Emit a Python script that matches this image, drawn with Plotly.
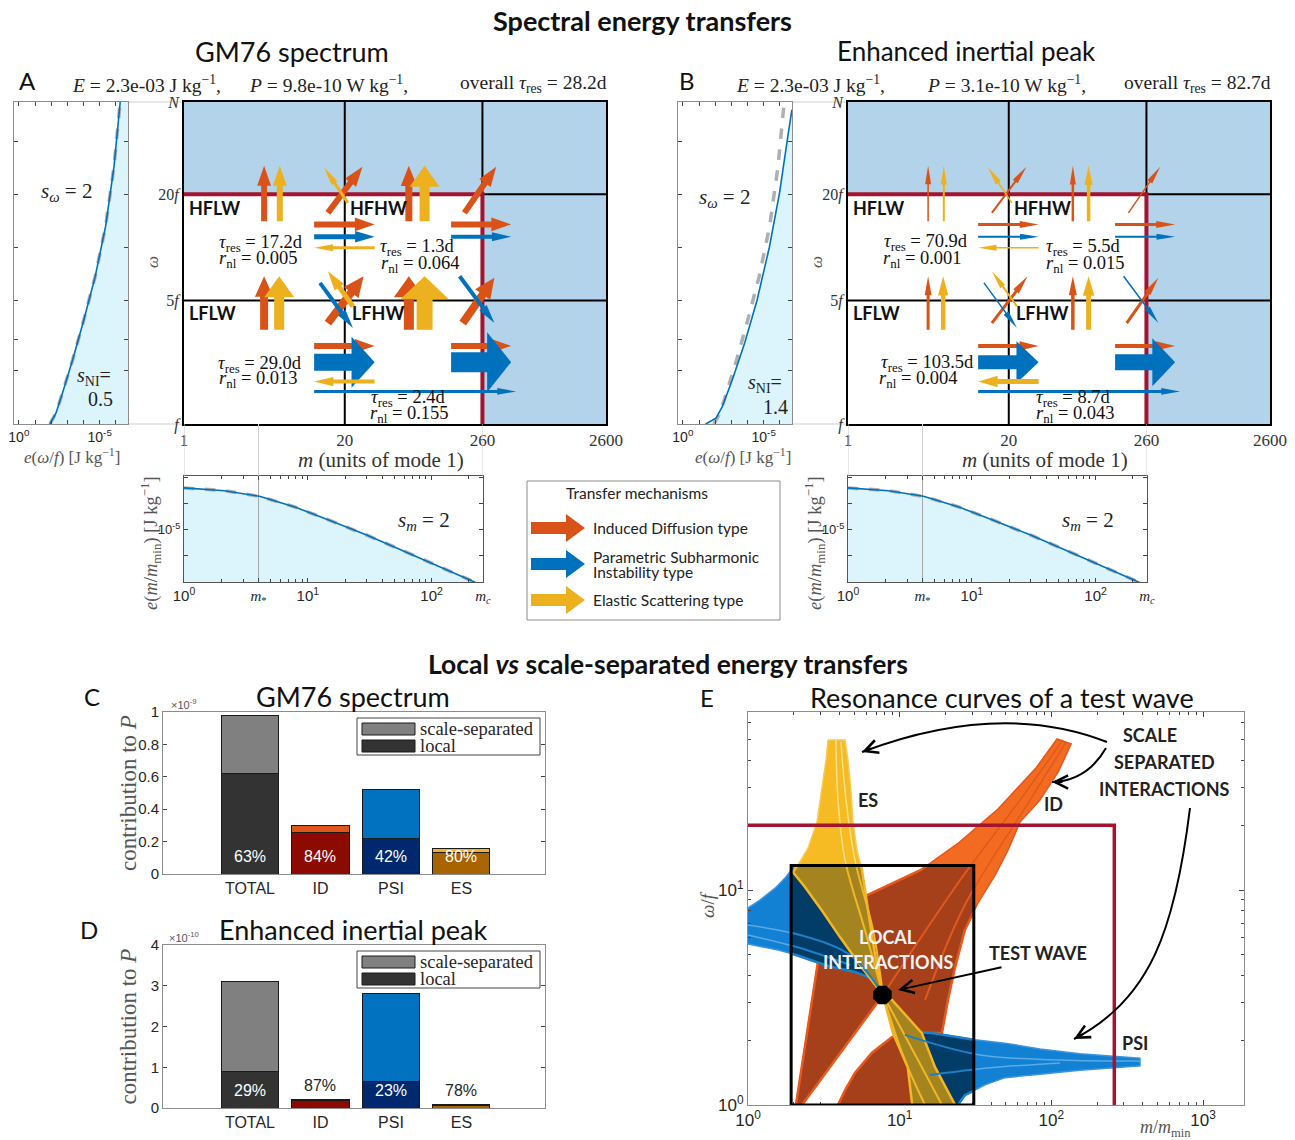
import math
import plotly.graph_objects as go

W, H = 1295, 1140
def px(x): return x / W
def py(y): return 1 - y / H
def dom_x(a, b): return [a / W, b / W]
def dom_y(top, bottom): return [1 - bottom / H, 1 - top / H]

SANS = "Lato, 'Open Sans', sans-serif"
HELV = "'Liberation Sans', Arial, sans-serif"
SERIF = "'Liberation Serif', 'DejaVu Serif', serif"

C_ID, C_PSI, C_ES = '#D95319', '#0072BD', '#EDB120'
CRIMSON = '#A2142F'
SKY = '#B2D3EA'
CYAN = '#DCF4FC'
KIND_COLOR = {'ID': C_ID, 'PSI': C_PSI, 'ES': C_ES}

# ======================= DATA =======================
# frequency spectra e(omega/f) [J kg^-1]
gm_omega = [1.0, 1.155, 1.5, 2.31, 3.75, 6.84, 13.2, 28.8, 66.7]
gm_e = [1.2e-2, 5.0e-3, 2.0e-3, 4.7e-4, 1.07e-4, 1.9e-5, 4.3e-6, 1.3e-6, 5.4e-7]
ip_omega = [1.0, 1.08, 1.25, 1.78, 2.88, 5.01, 10.0, 20.4, 42.7, 60.3]
ip_e = [3.9e-2, 8.9e-3, 3.7e-3, 8.7e-4, 1.5e-4, 2.6e-5, 4.5e-6, 1.05e-6, 3.2e-7, 1.8e-7]
# vertical-mode spectrum e(m/m_min)
spec_m = [1, 2.12, 4.07, 7.85, 15.1, 29.2, 56.2, 97.7, 174, 240]
spec_e = [4.1e-4, 3.2e-4, 1.95e-4, 7.6e-5, 2.3e-5, 6.6e-6, 1.74e-6, 5.4e-7, 1.7e-7, 8.5e-8]
m_star, m_c = 4, 260
# spectral-box boundaries
grid_m = [1, 20, 260, 2600]
grid_m_labels = ['1', '20', '260', '2600']
grid_omega = [1, 5, 20, 66.7]
grid_omega_labels = ['<i>f</i>', '5<i>f</i>', '20<i>f</i>', '<i>N</i>']

# panel headers and numbers
hdr_E = ['2.3e-03', '2.3e-03']
hdr_P = ['9.8e-10', '3.1e-10']
hdr_tau = ['28.2d', '82.7d']
s_NI = ['0.5', '1.4']
tau_res = [['17.2d', '1.3d', '29.0d', '2.4d'], ['70.9d', '5.5d', '103.5d', '8.7d']]
r_nl = [['0.005', '0.064', '0.013', '0.155'], ['0.001', '0.015', '0.004', '0.043']]

# transfer arrows: from (m0, w0) to (m1, w1), in m (mode units) and omega/f
arrow_kind = ['ID', 'ES', 'ID', 'ES', 'ID', 'ES', 'ID', 'ID', 'PSI', 'ES', 'ID', 'PSI',
              'ID', 'ES', 'ID', 'ES', 'ID', 'ES', 'PSI', 'ID', 'PSI',
              'ID', 'PSI', 'ES', 'PSI', 'ID', 'PSI']
arrow_m0 = [4.45, 5.96, 66, 88.5, 14.6, 21.2, 186, 11.3, 11.3, 34.9, 145, 145,
            4.45, 5.89, 66, 88.5, 14.6, 23.3, 12.6, 180, 170,
            11.3, 11.3, 34.9, 11.3, 145, 145]
arrow_w0 = [14.1, 14.1, 14.1, 14.1, 15.7, 17.9, 15.7, 13.5, 11.5, 9.96, 13.5, 11.5,
            3.42, 3.42, 3.42, 3.42, 3.73, 4.64, 6.3, 3.73, 6.87,
            2.77, 2.24, 1.74, 1.53, 2.77, 2.24]
arrow_m1 = [4.45, 5.96, 66, 88.5, 27.8, 13.6, 336, 34.9, 34.9, 11.3, 444, 444,
            4.45, 5.89, 66, 88.5, 28.4, 14.6, 23.3, 325, 325,
            34.9, 34.9, 11.3, 487, 444, 444]
arrow_w1 = [29.0, 29.0, 29.0, 29.0, 28.7, 28.4, 28.7, 13.5, 11.5, 9.96, 13.5, 11.5,
            6.87, 6.87, 6.87, 6.87, 6.87, 7.33, 3.5, 6.73, 3.73,
            2.77, 2.24, 1.74, 1.53, 2.77, 2.24]
# arrow thickness (proportional to transfer), panels A and B
arrow_width = [
    [6, 6, 7, 10, 6, 3, 6, 6, 5, 3, 6, 4, 8, 10, 10, 16, 8, 5, 4, 8, 4, 6, 17, 4, 3, 6, 20],
    [1.5, 2, 2.5, 3.5, 2, 1.5, 1.5, 3, 2, 1.5, 3, 2, 3, 4.5, 3.5, 5, 3, 2, 1.5, 3, 1.5, 4, 14, 5, 3, 4, 16],
]

# bar charts (C: x1e-9, D: x1e-10)
cats = ['TOTAL', 'ID', 'PSI', 'ES']
C_total = [0.98, 0.30, 0.52, 0.16]
C_local = [0.62, 0.255, 0.22, 0.13]
C_pct = ['63%', '84%', '42%', '80%']
D_total = [3.1, 0.22, 2.8, 0.08]
D_local = [0.9, 0.19, 0.64, 0.062]
D_pct = ['29%', '87%', '23%', '78%']
local_colors = ['#333333', '#8C0A00', '#00286E', '#A86400']
ss_colors = ['#808080', '#E0561A', '#0072C0', '#F0B428']

# resonance curves (panel E), m/m_min and omega/f
test_m, test_omega, local_factor = 7.7, 3.25, 4
id_main_m = [2.07, 2.49, 2.89, 3.22, 5.73, 13.8, 24.6, 44.5, 79.1, 109, 135, 111, 84.1, 62.1,
             51.8, 42.5, 32.8, 26.9, 23.2, 20.8, 19.0, 13.2, 10.0, 7.76, 2.27]
id_main_w = [1.0, 2.28, 4.62, 7.9, 9.27, 12.4, 16.6, 23.8, 36.9, 50.4, 47.8, 35.4, 26.2, 20.7,
             15.3, 11.7, 8.7, 6.52, 4.38, 3.08, 2.16, 2.16, 2.62, 3.25, 1.0]
id_blob_m = [3.92, 4.36, 5.07, 6.57, 8.9, 11.3, 12.6, 13.2]
id_blob_w = [1.0, 1.17, 1.41, 1.75, 2.07, 2.19, 1.62, 1.0]
psi_left_m = [0.95, 1.0, 1.2, 1.51, 1.78, 1.98, 4.04, 5.9, 7.19, 6.37, 5.07, 3.37, 1.98, 1.58, 1.0, 0.95]
psi_left_w = [8.25, 8.25, 8.98, 10.2, 11.5, 12.7, 6.24, 4.34, 3.65, 3.9, 4.16, 4.43, 5.04, 5.26, 5.61, 5.61]
psi_low_m = [10.8, 16.3, 31.3, 49.4, 84.1, 154, 243, 384, 384, 243, 154, 84.1, 49.4, 36.5, 26.9,
             24.2, 21.5, 15.8, 12.1]
psi_low_w = [2.19, 2.16, 2.01, 1.94, 1.82, 1.73, 1.69, 1.65, 1.52, 1.49, 1.45, 1.39, 1.34, 1.24,
             1.11, 1.0, 1.0, 1.45, 1.9]
es_up_m = [3.37, 4.36, 4.56, 4.77, 4.92, 5.23, 5.64, 6.18, 6.88, 7.76, 5.47, 4.04, 3.12, 2.38,
           1.98, 2.2, 2.49, 2.85, 3.07, 3.27]
es_up_w = [49.9, 49.9, 40.3, 29.2, 20.7, 15.3, 12.4, 8.07, 4.99, 3.25, 4.48, 6.04, 7.9, 10.3,
           12.1, 13.5, 15.7, 20.7, 29.2, 40.3]
es_low_m = [7.76, 9.03, 11.3, 12.1, 23.2, 17.1, 14.0, 8.9]
es_low_w = [3.25, 2.16, 1.5, 1.0, 1.0, 1.5, 2.16, 3.08]
# individual resonance strands inside the bands
strands = [
    ('ID', [7.76, 25.0, 62.1, 119], [3.25, 11.1, 26.2, 49.9]),
    ('ID', [14.7, 26.9, 72.3, 125], [3.08, 8.51, 26.2, 48.8]),
    ('ES', [3.80, 3.92, 4.36, 5.9, 7.76], [49.9, 26.2, 13.8, 6.52, 3.25]),
    ('ES', [4.10, 4.43, 5.07, 6.67, 7.76], [48.8, 26.2, 13.8, 6.52, 3.25]),
    ('ES', [7.76, 10.8, 14.7], [3.25, 1.62, 1.0]),
    ('ES', [7.76, 13.2, 19.0], [3.25, 1.62, 1.0]),
    ('PSI', [1.0, 2.2, 4.7, 7.42], [6.87, 6.18, 4.99, 3.43]),
    ('PSI', [1.0, 2.2, 4.7], [6.18, 5.37, 4.48]),
    ('PSI', [10.8, 33.8, 114, 384], [2.12, 1.71, 1.62, 1.6]),
    ('PSI', [15.8, 39.4, 114], [1.38, 1.49, 1.57]),
]

# ======================= LAYOUT GEOMETRY =======================
SPEC_XR = [0.3, -6.75]
OM_R = [0, math.log10(grid_omega[-1])]
GRID_XR = [0, math.log10(grid_m[-1])]
MS_XR = [0, math.log10(m_c)]
MS_YR = [-7.0, -2.93]
E_XPX, E_YPX = (748, 1244), (712, 1105)
E_XR, E_YR = [0, 3.27], [0, 1.828]

panels = [
    dict(spec=('x', 'y'), grid=('x2', 'y2'), ms=('x3', 'y3'), conn=('x11', 'y11'),
         sx=(14, 128), gx=(184, 606), msx=(184, 483), dx=0),
    dict(spec=('x4', 'y4'), grid=('x5', 'y5'), ms=('x6', 'y6'), conn=('x12', 'y12'),
         sx=(678, 792), gx=(848, 1270), msx=(848, 1147), dx=664),
]

fig = go.Figure()
layout_axes = {}
annotations = []
shapes = []

def ax_name(a, kind):
    return ('xaxis' if kind == 'x' else 'yaxis') + a[1:]

def ann(x, y, text, size=14, family=SANS, color='#222222', xanchor='center', yanchor='middle', angle=0):
    annotations.append(dict(x=px(x), y=py(y), xref='paper', yref='paper', text=text, showarrow=False,
                            font=dict(size=size, family=family, color=color), xanchor=xanchor,
                            yanchor=yanchor, textangle=angle))

def hline(x0, x1, y, color='#D0D0D0', width=1):
    shapes.append(dict(type='line', xref='paper', yref='paper', x0=px(x0), x1=px(x1), y0=py(y), y1=py(y),
                       line=dict(color=color, width=width), layer='below'))

def arrow_poly(m0, w0, m1, w1, wpx, sx, sy):
    x0, y0 = math.log10(m0) * sx, math.log10(w0) * sy
    x1, y1 = math.log10(m1) * sx, math.log10(w1) * sy
    L = math.hypot(x1 - x0, y1 - y0)
    ux, uy = (x1 - x0) / L, (y1 - y0) / L
    nx, ny = -uy, ux
    hw = max(6.0, 2.3 * wpx if wpx < 10 else 3.0 * wpx) / 2
    hl = min(18 + 0.3 * wpx, 0.6 * L)
    bx, by = x1 - ux * hl, y1 - uy * hl
    s = wpx / 2
    pts = [(x0 + nx * s, y0 + ny * s), (bx + nx * s, by + ny * s), (bx + nx * hw, by + ny * hw), (x1, y1),
           (bx - nx * hw, by - ny * hw), (bx - nx * s, by - ny * s), (x0 - nx * s, y0 - ny * s)]
    pts.append(pts[0])
    return [10 ** (p[0] / sx) for p in pts], [10 ** (p[1] / sy) for p in pts]

tick_font = dict(family=HELV, size=14, color='#262626')
def minor(vals, ln=3, col='#444444'):
    return dict(tickmode='array', tickvals=vals, ticks='inside', ticklen=ln, tickcolor=col, showgrid=False)

for ip, P in enumerate(panels):
    xs_, ys_ = P['spec']
    xg, yg = P['grid']
    xm, ym = P['ms']
    xc, yc = P['conn']
    d = P['dx']
    # ---- axes
    layout_axes[ax_name(xs_, 'x')] = dict(type='log', domain=dom_x(*P['sx']), range=SPEC_XR, anchor=ys_,
        tickvals=[1, 1e-5], ticktext=['10<sup>0</sup>', '10<sup>-5</sup>'], tickangle=0,
        minor=minor([1e-1, 1e-2, 1e-3, 1e-4, 1e-6], 4),
        ticks='inside', ticklen=4, mirror='ticks', showline=True, linecolor='#8c8c8c', linewidth=1,
        showgrid=False, zeroline=False, tickfont=tick_font)
    layout_axes[ax_name(ys_, 'y')] = dict(type='log', domain=dom_y(102, 424), range=OM_R, anchor=xs_,
        tickvals=[2, 3, 5, 10, 20, 40], showticklabels=False, ticks='inside', ticklen=4,
        mirror='ticks', showline=True, linecolor='#8c8c8c', linewidth=1, showgrid=False)
    layout_axes[ax_name(xg, 'x')] = dict(type='log', domain=dom_x(*P['gx']), range=GRID_XR, anchor=yg,
        tickvals=grid_m, ticktext=grid_m_labels, ticks='', showline=True, linecolor='black', linewidth=2,
        mirror=True, showgrid=False, zeroline=False, tickangle=0,
        tickfont=dict(family=SERIF, size=17, color='#333333'))
    layout_axes[ax_name(yg, 'y')] = dict(type='log', domain=dom_y(102, 424), range=OM_R, anchor=xg,
        tickvals=grid_omega, ticktext=grid_omega_labels, ticks='', showline=True, linecolor='black',
        linewidth=2, mirror=True, showgrid=False, zeroline=False,
        tickfont=dict(family=SERIF, size=16, color='#333333'))
    layout_axes[ax_name(xm, 'x')] = dict(type='log', domain=dom_x(*P['msx']), range=MS_XR, anchor=ym,
        tickvals=[1, m_star, 10, 100, m_c],
        ticktext=['10<sup>0</sup>', '<span style="font-family:Liberation Serif"><i>m</i><sub>*</sub></span>',
                  '10<sup>1</sup>', '10<sup>2</sup>',
                  '<span style="font-family:Liberation Serif"><i>m<sub>c</sub></i></span>'],
        tickangle=0, minor=minor([2, 3, 5, 6, 7, 8, 9, 20, 30, 40, 50, 60, 70, 80, 90, 200]),
        ticks='inside', ticklen=4, mirror='ticks', showline=True, linecolor='#555555', linewidth=1,
        showgrid=False, zeroline=False, tickfont=dict(family=HELV, size=15, color='#262626'))
    layout_axes[ax_name(ym, 'y')] = dict(type='log', domain=dom_y(476, 582), range=MS_YR, anchor=xm,
        tickvals=[1e-5], ticktext=['10<sup>-5</sup>'], minor=minor([1e-6, 1e-4, 1e-3], 4),
        ticks='inside', ticklen=4, mirror='ticks', showline=True, linecolor='#555555', linewidth=1,
        showgrid=False, zeroline=False, tickfont=dict(family=HELV, size=13, color='#262626'))
    layout_axes[ax_name(xc, 'x')] = dict(type='log', domain=dom_x(*P['msx']), range=MS_XR, anchor=yc,
                                         visible=False)
    layout_axes[ax_name(yc, 'y')] = dict(domain=dom_y(424, 476), range=[0, 1], anchor=xc, visible=False)

    # ---- frequency spectrum
    e_list, w_list = (gm_e, gm_omega) if ip == 0 else (ip_e, ip_omega)
    e_edge = 10 ** SPEC_XR[1]
    fig.add_trace(go.Scatter(x=e_list + [e_edge, e_edge, e_list[0]], y=w_list + [w_list[-1], w_list[0], w_list[0]],
                             mode='lines', fill='toself', fillcolor=CYAN, line=dict(width=0),
                             xaxis=xs_, yaxis=ys_, hoverinfo='skip'))
    fig.add_trace(go.Scatter(x=gm_e, y=gm_omega, mode='lines', line=dict(color='#AFAFAF', width=3.5, dash='dash'),
                             xaxis=xs_, yaxis=ys_, hoverinfo='skip'))
    fig.add_trace(go.Scatter(x=e_list, y=w_list, mode='lines', line=dict(color=C_PSI, width=1.6),
                             xaxis=xs_, yaxis=ys_, hoverinfo='skip'))
    hline(P['sx'][1], P['gx'][0], 102)
    hline(P['sx'][1], P['gx'][0], 424)

    # ---- spectral grid
    mN, wN = grid_m[-1], grid_omega[-1]
    fig.add_trace(go.Scatter(x=[grid_m[0], grid_m[2], grid_m[2], mN, mN, grid_m[0], grid_m[0]],
                             y=[grid_omega[2], grid_omega[2], grid_omega[0], grid_omega[0], wN, wN, grid_omega[2]],
                             mode='lines', fill='toself', fillcolor=SKY, line=dict(width=0),
                             xaxis=xg, yaxis=yg, hoverinfo='skip'))
    for xx, yy in [([grid_m[1], grid_m[1]], [grid_omega[0], wN]),
                   ([grid_m[2], grid_m[2]], [grid_omega[2], wN]),
                   ([grid_m[0], mN], [grid_omega[1], grid_omega[1]]),
                   ([grid_m[2], mN], [grid_omega[2], grid_omega[2]])]:
        fig.add_trace(go.Scatter(x=xx, y=yy, mode='lines', line=dict(color='black', width=2),
                                 xaxis=xg, yaxis=yg, hoverinfo='skip'))
    fig.add_trace(go.Scatter(x=[grid_m[0], grid_m[2], grid_m[2]], y=[grid_omega[2], grid_omega[2], grid_omega[0]],
                             mode='lines', line=dict(color=CRIMSON, width=4), xaxis=xg, yaxis=yg, hoverinfo='skip'))
    gx0, gx1 = P['gx']
    sxg = (gx1 - gx0) / (GRID_XR[1] - GRID_XR[0])
    syg = (424 - 102) / (OM_R[1] - OM_R[0])
    for k in range(len(arrow_kind)):
        ax_, ay_ = arrow_poly(arrow_m0[k], arrow_w0[k], arrow_m1[k], arrow_w1[k], arrow_width[ip][k], sxg, syg)
        fig.add_trace(go.Scatter(x=ax_, y=ay_, mode='lines', fill='toself', fillcolor=KIND_COLOR[arrow_kind[k]],
                                 line=dict(width=0), xaxis=xg, yaxis=yg, hoverinfo='skip'))

    # ---- m spectrum
    fig.add_trace(go.Scatter(x=spec_m + [spec_m[-1], spec_m[0]], y=spec_e + [10 ** MS_YR[0]] * 2,
                             mode='lines', fill='toself', fillcolor=CYAN, line=dict(width=0),
                             xaxis=xm, yaxis=ym, hoverinfo='skip'))
    fig.add_trace(go.Scatter(x=[m_star, m_star], y=[10 ** MS_YR[0], 10 ** MS_YR[1]], mode='lines',
                             line=dict(color='#A8A8A8', width=1), xaxis=xm, yaxis=ym, hoverinfo='skip'))
    fig.add_trace(go.Scatter(x=spec_m, y=spec_e, mode='lines', line=dict(color='#AFAFAF', width=3.5, dash='dash'),
                             xaxis=xm, yaxis=ym, hoverinfo='skip'))
    fig.add_trace(go.Scatter(x=spec_m, y=spec_e, mode='lines', line=dict(color=C_PSI, width=1.6),
                             xaxis=xm, yaxis=ym, hoverinfo='skip'))
    for mv in [1, m_star, m_c]:
        fig.add_trace(go.Scatter(x=[mv, mv], y=[0, 1], mode='lines', line=dict(color='#CFCFCF', width=1),
                                 xaxis=xc, yaxis=yc, hoverinfo='skip'))

    # ---- texts
    ann(146 + d, 84, '<i>E</i> = %s J kg<sup>−1</sup>,' % hdr_E[ip], 19.5, SERIF)
    ann(328 + d + (0 if ip == 0 else 15), 84, '<i>P</i> = %s W kg<sup>−1</sup>,' % hdr_P[ip], 19.5, SERIF)
    ann(533 + d, 84, 'overall <i>τ</i><sub>res</sub> = %s' % hdr_tau[ip], 19.5, SERIF)
    ann(27 + 660 * ip, 80, 'A' if ip == 0 else 'B', 24, SANS, '#111111')
    if ip == 0:
        ann(66, 192, '<i>s</i><sub><i>ω</i></sub> = 2', 21, SERIF)
        ann(94, 376, '<i>s</i><sub>NI</sub>=', 20, SERIF)
        ann(100, 399, s_NI[0], 20, SERIF)
    else:
        ann(724, 198, '<i>s</i><sub><i>ω</i></sub> = 2', 21, SERIF)
        ann(765, 384, '<i>s</i><sub>NI</sub>=', 20, SERIF)
        ann(775, 407, s_NI[1], 20, SERIF)
    ann(72 + (ip * 671), 456, '<i>e</i>(<i>ω</i>/<i>f</i>) [J kg<sup>−1</sup>]', 17, SERIF, '#555555')
    ann(152 + d, 262, '<i>ω</i>', 17, SERIF, '#555555', angle=-90)
    ann(381 + d, 460, '<i>m</i> (units of mode 1)', 21, SERIF, '#333333')
    for lab, (lx, ly) in zip(['HFLW', 'HFHW', 'LFLW', 'LFHW'], [(187, 208), (348, 208), (187, 313), (350, 313)]):
        ann(lx + d, ly, '<b>%s</b>' % lab, 18, SANS, '#111111', xanchor='left')
    tpos = [[(261, 243), (258, 259), (417, 247), (420, 264), (260, 364), (258, 380), (408, 398), (410, 414)],
            [(926, 242), (922, 259), (1083, 247), (1085, 264), (928, 363), (918, 380), (1073, 398), (1075, 414)]][ip]
    for j in range(4):
        (tx, ty), (rx, ry) = tpos[2 * j], tpos[2 * j + 1]
        ann(tx, ty, '<i>τ</i><sub>res</sub> = %s' % tau_res[ip][j], 18.5, SERIF, '#111111')
        ann(rx, ry, '<i>r</i><sub>nl</sub> = %s' % r_nl[ip][j], 18.5, SERIF, '#111111')
    ann(424 + d, 521, '<i>s</i><sub><i>m</i></sub> = 2', 21, SERIF)
    ann(150 + d, 543, '<i>e</i>(<i>m</i>/<i>m</i><sub>min</sub>) [J kg<sup>−1</sup>]', 18.5, SERIF, '#555555', angle=-90)

# ======================= TITLES =======================
ann(642, 20, '<b>Spectral energy transfers</b>', 27, SANS, '#111111')
ann(292, 51, 'GM76 spectrum', 27, SANS, '#111111')
ann(966, 51, 'Enhanced inertial peak', 26, SANS, '#111111')
ann(668, 664, '<b>Local <i>vs</i> scale-separated energy transfers</b>', 26.5, SANS, '#111111')

# ======================= LEGEND BOX (transfer mechanisms) =======================
shapes.append(dict(type='rect', xref='paper', yref='paper', x0=px(527), x1=px(780), y0=py(620), y1=py(481),
                   line=dict(color='#8c8c8c', width=1), fillcolor='white', layer='below'))
ann(637, 493, 'Transfer mechanisms', 15.5, SANS, '#222222')
leg_items = [(528, ['Induced Diffusion type'], C_ID), (564, ['Parametric Subharmonic', 'Instability type'], C_PSI),
             (600, ['Elastic Scattering type'], C_ES)]
for cy, lines, col in leg_items:
    pts = [(531, cy - 6), (566, cy - 6), (566, cy - 14), (585, cy), (566, cy + 14), (566, cy + 6), (531, cy + 6)]
    path = 'M ' + ' L '.join('%f,%f' % (px(a), py(b)) for a, b in pts) + ' Z'
    shapes.append(dict(type='path', xref='paper', yref='paper', path=path, fillcolor=col, line=dict(width=0)))
    if len(lines) == 1:
        ann(591, cy, lines[0], 15.5, SANS, '#222222', xanchor='left')
    else:
        ann(591, cy - 7, lines[0], 15.5, SANS, '#222222', xanchor='left')
        ann(591, cy + 8, lines[1], 15.5, SANS, '#222222', xanchor='left')

# ======================= BAR CHARTS C, D =======================
bar_panels = [('x7', 'y7', (712, 874), C_total, C_local, C_pct, [0, 1], [0, 0.2, 0.4, 0.6, 0.8, 1],
               ['0', '0.2', '0.4', '0.6', '0.8', '1'], '×10<sup>-9</sup>', 'C', 'GM76 spectrum'),
              ('x8', 'y8', (945, 1108), D_total, D_local, D_pct, [0, 4], [0, 1, 2, 3, 4],
               ['0', '1', '2', '3', '4'], '×10<sup>-10</sup>', 'D', 'Enhanced inertial peak')]
for xa, ya, (t, b), tot, loc, pct, yr, tv, tt, expo, letter, title in bar_panels:
    layout_axes[ax_name(xa, 'x')] = dict(type='category', domain=dom_x(163, 545), range=[-1.234, 4.186],
        anchor=ya, categoryorder='array', categoryarray=cats, ticks='', showline=True, mirror=True, tickangle=0,
        linecolor='#8c8c8c', linewidth=1, showgrid=False, tickfont=dict(family=HELV, size=16, color='#262626'))
    layout_axes[ax_name(ya, 'y')] = dict(domain=dom_y(t, b), range=yr, anchor=xa, tickvals=tv, ticktext=tt,
        ticks='inside', ticklen=4, mirror='ticks', showline=True, linecolor='#8c8c8c', linewidth=1,
        showgrid=False, zeroline=False, tickfont=dict(family=HELV, size=15, color='#262626'))
    ss = [a - c for a, c in zip(tot, loc)]
    fig.add_trace(go.Bar(x=cats, y=loc, width=0.81, marker=dict(color=local_colors, line=dict(color='#1a1a1a', width=1)),
                         xaxis=xa, yaxis=ya, hoverinfo='skip'))
    fig.add_trace(go.Bar(x=cats, y=ss, width=0.81, marker=dict(color=ss_colors, line=dict(color='#1a1a1a', width=1)),
                         xaxis=xa, yaxis=ya, hoverinfo='skip'))
    span = yr[1] - yr[0]
    for c, lv, tv_, p in zip(cats, loc, tot, pct):
        inside = lv > 0.1 * span
        annotations.append(dict(x=c, y=(0.11 * span if inside else tv_ + 0.085 * span), xref=xa, yref=ya, text=p,
                                showarrow=False, font=dict(family=HELV, size=16, color='white' if inside else '#262626')))
    ann(184, t - 8, expo, 11, HELV, '#555555')
    ann(128, (t + b) / 2, 'contribution to <i>P</i>', 23, SERIF, '#555555', angle=-90)
    ann(92 if letter == 'C' else 89, t - 16, letter, 24, SANS, '#111111')
    ann(353, t - 16, title, 27, SANS, '#111111')
    # legend
    shapes.append(dict(type='rect', xref='paper', yref='paper', x0=px(357), x1=px(540), y0=py(t + 43),
                       y1=py(t + 6), line=dict(color='#444444', width=1), fillcolor='white'))
    for k, (lab, col) in enumerate([('scale-separated', '#808080'), ('local', '#333333')]):
        yy = t + 17 + 17 * k
        shapes.append(dict(type='rect', xref='paper', yref='paper', x0=px(362), x1=px(415), y0=py(yy + 6),
                           y1=py(yy - 6), line=dict(color='#1a1a1a', width=1), fillcolor=col))
        ann(418, yy, lab, 18.5, SERIF, '#262626', xanchor='left')

# ======================= PANEL E =======================
mdec = [v * 10 ** k for k in range(3) for v in range(2, 10)] + [2000]
layout_axes['xaxis9'] = dict(type='log', domain=dom_x(*E_XPX), range=E_XR, anchor='y9',
    tickvals=[1, 10, 100, 1000], ticktext=['10<sup>0</sup>', '10<sup>1</sup>', '10<sup>2</sup>', '10<sup>3</sup>'],
    minor=minor(mdec, 3), tickangle=0,
    ticks='inside', ticklen=5, mirror='ticks', showline=True, linecolor='#8c8c8c', linewidth=1,
    showgrid=False, zeroline=False, tickfont=dict(family=HELV, size=17, color='#262626'))
wdec = [2, 3, 4, 5, 6, 7, 8, 9, 20, 30, 40, 50, 60]
layout_axes['yaxis9'] = dict(type='log', domain=dom_y(E_YPX[0], E_YPX[1]), range=E_YR, anchor='x9',
    tickvals=[1, 10], ticktext=['10<sup>0</sup>', '10<sup>1</sup>'], minor=minor(wdec, 3),
    ticks='inside', ticklen=5, mirror='ticks', showline=True, linecolor='#8c8c8c', linewidth=1,
    showgrid=False, zeroline=False, tickfont=dict(family=HELV, size=17, color='#262626'))

box_m0, box_m1 = test_m / local_factor, test_m * local_factor
box_w0, box_w1 = max(1.0, test_omega / local_factor), test_omega * local_factor
sxE = (E_XPX[1] - E_XPX[0]) / (E_XR[1] - E_XR[0])
syE = (E_YPX[1] - E_YPX[0]) / (E_YR[1] - E_YR[0])
bx0 = E_XPX[0] + sxE * (math.log10(box_m0) - E_XR[0])
bx1 = E_XPX[0] + sxE * (math.log10(box_m1) - E_XR[0])
by_bot = E_YPX[1] - syE * (math.log10(box_w0) - E_YR[0])
by_top = E_YPX[1] - syE * (math.log10(box_w1) - E_YR[0])
layout_axes['xaxis10'] = dict(type='log', domain=dom_x(bx0, bx1), range=[math.log10(box_m0), math.log10(box_m1)],
                              anchor='y10', visible=False)
layout_axes['yaxis10'] = dict(type='log', domain=dom_y(by_top, by_bot), range=[math.log10(box_w0), math.log10(box_w1)],
                              anchor='x10', visible=False)

E_polys = [(id_main_m, id_main_w, 'ID'), (id_blob_m, id_blob_w, 'ID'), (psi_left_m, psi_left_w, 'PSI'),
           (psi_low_m, psi_low_w, 'PSI'), (es_up_m, es_up_w, 'ES'), (es_low_m, es_low_w, 'ES')]
bright = {'ID': ('#F36A21', '#E4581C'), 'PSI': ('#1381D3', '#3A95DD'), 'ES': ('#F6BA23', '#F7CB55')}
dark = {'ID': ('#A5401A', '#E8591E'), 'PSI': ('#023D68', '#1E80C8'), 'ES': ('#A3841F', '#F2B626')}
strand_col = {'ID': '#E05A1E', 'PSI': '#5AAAE6', 'ES': '#FADF8A'}
strand_col_dark = {'ID': '#E05A1E', 'PSI': '#1C7FC8', 'ES': '#F2B626'}
for mm, ww, kind in E_polys:
    fc, lc = bright[kind]
    fig.add_trace(go.Scatter(x=mm + [mm[0]], y=ww + [ww[0]], mode='lines', fill='toself', fillcolor=fc,
                             line=dict(color=lc, width=1.5), xaxis='x9', yaxis='y9', hoverinfo='skip'))
for kind, mm, ww in strands:
    fig.add_trace(go.Scatter(x=mm, y=ww, mode='lines', line=dict(color=strand_col[kind], width=1.5, shape='spline'),
                             xaxis='x9', yaxis='y9', hoverinfo='skip'))
fig.add_trace(go.Scatter(x=[grid_m[0], grid_m[2], grid_m[2]], y=[grid_omega[2], grid_omega[2], grid_omega[0]],
                         mode='lines', line=dict(color=CRIMSON, width=3.5), xaxis='x9', yaxis='y9', hoverinfo='skip'))
for mm, ww, kind in E_polys:
    fc, lc = dark[kind]
    fig.add_trace(go.Scatter(x=mm + [mm[0]], y=ww + [ww[0]], mode='lines', fill='toself', fillcolor=fc,
                             line=dict(color=lc, width=2.5), xaxis='x10', yaxis='y10', hoverinfo='skip'))
for kind, mm, ww in strands:
    fig.add_trace(go.Scatter(x=mm, y=ww, mode='lines', line=dict(color=strand_col_dark[kind], width=2, shape='spline'),
                             xaxis='x10', yaxis='y10', hoverinfo='skip'))
fig.add_trace(go.Scatter(x=[test_m], y=[test_omega], mode='markers', cliponaxis=False,
                         marker=dict(symbol='octagon', size=20, color='black'), xaxis='x10', yaxis='y10',
                         hoverinfo='skip'))
shapes.append(dict(type='rect', xref='x9', yref='y9', x0=box_m0, x1=box_m1, y0=box_w0, y1=box_w1,
                   line=dict(color='black', width=3)))

# curved pointer arrows
def qpath(p0, c, p1):
    return 'M %f,%f Q %f,%f %f,%f' % (px(p0[0]), py(p0[1]), px(c[0]), py(c[1]), px(p1[0]), py(p1[1]))
def cpath(p0, c1, c2, p1):
    return 'M %f,%f C %f,%f %f,%f %f,%f' % (px(p0[0]), py(p0[1]), px(c1[0]), py(c1[1]), px(c2[0]), py(c2[1]),
                                            px(p1[0]), py(p1[1]))
curves = [(qpath((1107, 742), (1000, 700), (862, 752)), (862, 752), (11, -4)),
          (qpath((1106, 748), (1087, 781), (1052, 782)), (1052, 782), (12, 0)),
          (cpath((1190, 808), (1175, 930), (1150, 1000), (1074, 1039)), (1074, 1039), (11, -6))]
for path, tip, (oax, oay) in curves:
    shapes.append(dict(type='path', xref='paper', yref='paper', path=path, line=dict(color='black', width=2)))
    annotations.append(dict(x=px(tip[0]), y=py(tip[1]), xref='paper', yref='paper', text='', showarrow=True,
                            ax=oax, ay=oay, arrowhead=5, arrowsize=1.3, arrowwidth=2, arrowcolor='black'))
annotations.append(dict(x=px(898), y=py(990), xref='paper', yref='paper', text='', showarrow=True,
                        ax=105, ay=-23, arrowhead=5, arrowsize=1.3, arrowwidth=2, arrowcolor='black'))

ann(707, 697, 'E', 24, SANS, '#111111')
ann(1002, 697, 'Resonance curves of a test wave', 27, SANS, '#111111')
ann(1165, 1128, '<i>m</i>/<i>m</i><sub>min</sub>', 18, SERIF, '#555555')
ann(707, 905, '<i>ω</i>/<i>f</i>', 19, SERIF, '#555555', angle=-90)
ann(868, 800, '<b>ES</b>', 18, SANS, '#222222')
ann(1053, 804, '<b>ID</b>', 18, SANS, '#222222')
ann(1135, 1043, '<b>PSI</b>', 18, SANS, '#222222')
ann(1150, 735, '<b>SCALE</b>', 18, SANS, '#222222')
ann(1164, 762, '<b>SEPARATED</b>', 18, SANS, '#222222')
ann(1164, 789, '<b>INTERACTIONS</b>', 18, SANS, '#222222')
ann(888, 937, '<b>LOCAL</b>', 18, SANS, '#F2F2F2')
ann(888, 962, '<b>INTERACTIONS</b>', 18, SANS, '#F2F2F2')
ann(1038, 953, '<b>TEST WAVE</b>', 18, SANS, '#222222')

for k in layout_axes:
    layout_axes[k]['automargin'] = False

fig.update_layout(width=W, height=H, margin=dict(l=0, r=0, t=0, b=0, pad=0), paper_bgcolor='white',
                  plot_bgcolor='rgba(0,0,0,0)', showlegend=False, barmode='stack',
                  annotations=annotations, shapes=shapes, **layout_axes)
fig.write_html("out.html", config={'displayModeBar': False},
               post_script="document.body.style.margin='0px';document.body.style.padding='0px';"
                           "document.body.style.overflow='hidden';")
